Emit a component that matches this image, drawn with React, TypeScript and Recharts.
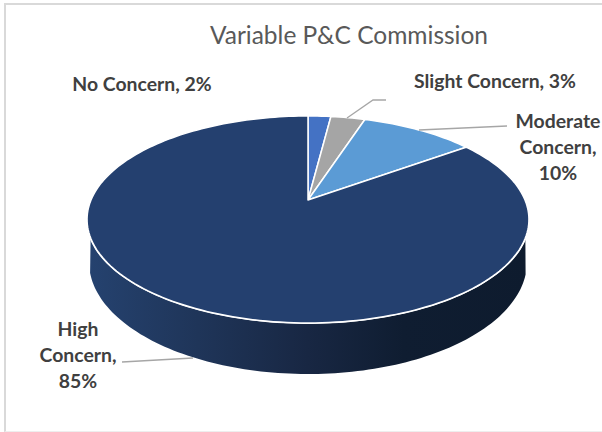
import React from 'react';
import { PieChart, Pie, Cell } from 'recharts';

const categories = ['No Concern', 'Slight Concern', 'Moderate Concern', 'High Concern'];
const shares = [2, 3, 10, 85];
const colors = ['#4472C4', '#A5A5A5', '#5B9BD5', '#24406F'];

const data = categories.map((name, i) => ({ name, value: shares[i] }));

// label placement, same order as categories
const labelLines = [
  ['No Concern, 2%'],
  ['Slight Concern, 3%'],
  ['Moderate', 'Concern,', '10%'],
  ['High', 'Concern,', '85%'],
];
const labelAt = [
  { x: 142, y: 91, leader: '' },
  { x: 495, y: 88, leader: 'M347,118 L373,100 L386,100' },
  { x: 558, y: 128, leader: 'M419,130 L507,126' },
  { x: 78, y: 336, leader: 'M122,362 L193,358' },
];

// Excel style 3D tilt: the centre of the pie sits above the middle of the ellipse
const TILT = 0.188;
const SQUASH = 0.46;

const project = (cx: number, cy: number, r: number, deg: number) => {
  const u = Math.cos((deg * Math.PI) / 180);
  const v = Math.sin((deg * Math.PI) / 180);
  const d = 1 + TILT * v;
  return [cx + (r * u) / d, cy - (r * SQUASH * v) / d];
};

const arcPoints = (cx: number, cy: number, r: number, from: number, to: number) => {
  const steps = Math.max(2, Math.ceil(Math.abs(to - from) / 1.5));
  const pts: string[] = [];
  for (let i = 0; i <= steps; i++) {
    const [x, y] = project(cx, cy, r, from + ((to - from) * i) / steps);
    pts.push(`${x.toFixed(2)},${y.toFixed(2)}`);
  }
  return pts;
};

// front wall, only the big slice reaches the front
const FRONT_RIGHT = -20.8;
const FRONT_LEFT = -159.2;

const Slice = (props: any) => {
  const { cx, cy, outerRadius: r, startAngle, endAngle, fill, index } = props;
  const rim = arcPoints(cx, cy, r, startAngle, endAngle);
  const top = `M${cx},${cy} L${rim.join(' L')} Z`;
  let wall = null;
  if (index === 3) {
    const front = arcPoints(cx, cy, r, FRONT_RIGHT, FRONT_LEFT);
    const bottom: string[] = [];
    for (let a = 185.6; a <= 354.4; a += 1.5) {
      const t = (a * Math.PI) / 180;
      bottom.push(`${(cx + r * 1.009 * Math.cos(t)).toFixed(2)},${(cy + 62 - 112 * Math.sin(t)).toFixed(2)}`);
    }
    wall = (
      <g>
        <path d={`M${front.join(' L')} L${bottom.join(' L')} Z`} fill="url(#wallShade)" />
        <path d={`M${front.join(' L')}`} fill="none" stroke="#fff" strokeWidth={2} />
      </g>
    );
  }
  return (
    <g>
      {wall}
      <path d={top} fill={fill} stroke="#fff" strokeWidth={1.5} strokeLinejoin="round" />
    </g>
  );
};

const SliceLabel = (props: any) => {
  const { index } = props;
  const at = labelAt[index];
  return (
    <g>
      {at.leader && <path d={at.leader} fill="none" stroke="#A6A6A6" strokeWidth={1.3} />}
      <text
        x={at.x}
        y={at.y}
        textAnchor="middle"
        fontFamily="Lato, sans-serif"
        fontWeight={700}
        fontSize={19.4}
        fill="#404040"
      >
        {labelLines[index].map((line, i) => (
          <tspan key={line} x={at.x} dy={i === 0 ? 0 : 26}>
            {line}
          </tspan>
        ))}
      </text>
    </g>
  );
};

const App = () => {
  return (
    <div style={{ position: 'fixed', left: 0, top: 0, width: 602, height: 432, background: '#fff', overflow: 'hidden' }}>
      <div
        style={{
          position: 'absolute',
          left: 4,
          top: 3,
          width: 640,
          height: 426,
          borderLeft: '2px solid #d9d9d9',
          borderTop: '2px solid #d9d9d9',
          borderBottom: '1px solid #eeeeee',
        }}
      />
      <div style={{ position: 'absolute', left: 0, top: 0 }}>
        <PieChart width={602} height={432} margin={{ top: 0, right: 0, bottom: 0, left: 0 }}>
          <defs>
            <linearGradient id="wallShade" gradientUnits="userSpaceOnUse" x1="88" y1="0" x2="527" y2="0">
              <stop offset="0%" stopColor="#25426f" />
              <stop offset="25%" stopColor="#1f3559" />
              <stop offset="50%" stopColor="#182743" />
              <stop offset="72%" stopColor="#0f1d31" />
              <stop offset="100%" stopColor="#0e1b2e" />
            </linearGradient>
          </defs>
          <text x={349} y={44} textAnchor="middle" fontFamily="Lato, sans-serif" fontSize={24.5} fill="#595959">
            Variable P&amp;C Commission
          </text>
          <Pie
            data={data}
            dataKey="value"
            nameKey="name"
            cx={308}
            cy={200}
            innerRadius={0}
            outerRadius={217}
            startAngle={90}
            endAngle={-270}
            paddingAngle={0}
            shape={Slice}
            label={SliceLabel}
            labelLine={false}
            isAnimationActive={false}
          >
            {data.map((d, i) => (
              <Cell key={d.name} fill={colors[i]} />
            ))}
          </Pie>
        </PieChart>
      </div>
    </div>
  );
};

export default App;
